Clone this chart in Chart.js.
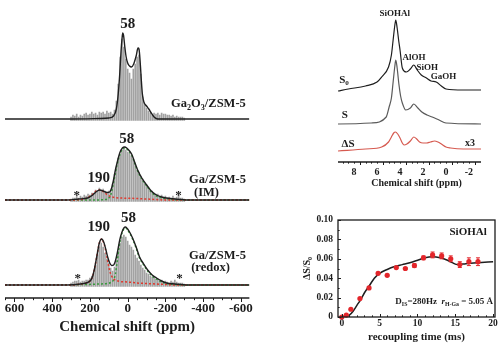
<!DOCTYPE html>
<html>
<head>
<meta charset="utf-8">
<script src="https://cdn.jsdelivr.net/npm/chart.js@4.4.1/dist/chart.umd.min.js"></script>
<style>
  html, body { margin: 0; padding: 0; background: #fff; }
  #wrap { position: relative; width: 500px; height: 348px; overflow: hidden; }
  canvas { position: absolute; }
</style>
</head>
<body>
<div id="wrap">
  <canvas id="galliumChart" width="256" height="348" style="left:0;top:0"></canvas>
  <canvas id="protonChart" width="210" height="200" style="left:290px;top:0"></canvas>
  <canvas id="respdorChart" width="210" height="148" style="left:290px;top:200px"></canvas>
</div>
<script>
const SERIF = '"Liberation Serif", "Times New Roman", serif';
const INK = '#1c1c1c';

// ---------- 71Ga MAS NMR spectra (left panel) ----------
// raw spectrum sampled every 10 ppm, 300 .. -300
const rawPpm = [300, 290, 280, 270, 260, 250, 240, 230, 220, 210,
                200, 190, 180, 170, 160, 150, 140, 130, 120, 110,
                100, 90, 80, 70, 60, 50, 40, 30, 20, 10,
                0, -10, -20, -30, -40, -50, -60, -70, -80, -90,
                -100, -110, -120, -130, -140, -150, -160, -170, -180, -190,
                -200, -210, -220, -230, -240, -250, -260, -270, -280, -290, -300];

// Ga2O3/ZSM-5
const ga2o3Raw = [2, 4, 3, 5, 2, 4, 3, 5, 6, 4,
                  5, 7, 5, 6, 4, 7, 6, 7, 5, 8,
                  6, 7, 5, 9, 18, 35, 62, 80, 72, 60,
                  50, 46, 40, 50, 55, 62, 64, 45, 22, 14,
                  11, 8, 6, 4, 6, 5, 6, 4, 6, 5,
                  5, 4, 4, 3, 4, 2, 3, 2, 2, 2, 1];
const ga2o3FitPpm = [650, 300, 150, 100, 75, 60, 50, 42, 35, 30, 26, 22, 15, 8, 0, -10, -20, -32, -45, -55, -60, -66, -72, -78, -86, -100, -112, -125, -140, -160, -300, -645];
const ga2o3Fit    = [0, 0, 0.5, 1, 3, 10, 25, 45, 68, 80, 86, 84, 72, 62, 56, 53, 52, 55, 63, 71, 70, 58, 40, 25, 17, 13, 10, 6, 2, 0, 0, 0];

// Ga/ZSM-5 (IM)
const gaImRaw = [1, 2, 2, 5, 2, 4, 3, 5, 4, 6,
                 5, 7, 7, 10, 9, 12, 10, 11, 9, 8,
                 9, 10, 16, 26, 33, 42, 45, 50, 52, 50,
                 48, 47, 44, 40, 36, 30, 28, 24, 21, 17,
                 15, 13, 10, 9, 7, 6, 6, 4, 5, 3,
                 4, 2, 3, 2, 4, 2, 3, 5, 2, 2, 1];
const gaImFitPpm = [650, 320, 260, 212, 185, 165, 148, 130, 110, 95, 85, 75, 65, 55, 42, 28, 16, 5, -10, -21, -37, -53, -75, -101, -125, -153, -180, -206, -250, -320, -645];
const gaImFit    = [0, 0, 1, 2, 5, 8.5, 10, 9, 7.5, 8, 12, 20, 30, 38, 47, 52, 53, 52, 49, 46, 38, 30, 22, 15, 9, 5, 3, 2, 1, 0, 0];
const gaImSite190Ppm = [650, 300, 250, 215, 190, 170, 150, 130, 110, 90, 70, 40, 0, -50, -100, -150, -200, -645];
const gaImSite190    = [0, 0, 0.5, 2, 5, 8.5, 10, 8.5, 5.5, 3.5, 2.5, 2, 1.8, 1.5, 1, 0.5, 0, 0];
const gaImSite58Ppm = [650, 200, 120, 100, 88, 78, 68, 55, 42, 28, 16, 5, -10, -21, -37, -53, -75, -101, -125, -153, -180, -220, -260, -645];
const gaImSite58    = [0, 0, 0.5, 2, 6, 14, 24, 36, 45, 51, 52, 51, 48, 45, 37, 29, 21, 14, 8, 4, 2, 1, 0, 0];

// Ga/ZSM-5 (redox)
const gaRedoxRaw = [2, 3, 4, 4, 5, 3, 4, 4, 5, 5,
                    7, 9, 12, 20, 30, 38, 42, 38, 32, 26,
                    22, 17, 14, 18, 24, 34, 42, 48, 50, 48,
                    44, 40, 38, 35, 30, 27, 24, 20, 17, 15,
                    12, 11, 9, 8, 7, 6, 6, 4, 5, 3,
                    4, 3, 2, 4, 3, 5, 3, 2, 2, 2, 1];
const gaRedoxFitPpm = [650, 320, 250, 212, 195, 185, 175, 164, 150, 138, 125, 115, 106, 95, 85, 74, 65, 55, 42, 30, 20, 11, 0, -13, -26, -45, -63, -85, -106, -130, -153, -180, -206, -250, -320, -645];
const gaRedoxFit    = [0, 0, 1, 2.5, 5, 9, 17, 28, 42, 46, 42, 35, 28, 22, 19.5, 20, 24, 32, 45, 53, 57, 58, 56, 52, 47, 38, 28, 21, 15, 10, 7, 4, 2, 1, 0, 0];
const gaRedoxSite190Ppm = [650, 300, 250, 212, 195, 185, 175, 164, 150, 138, 125, 115, 106, 95, 85, 74, 60, 40, 0, -50, -100, -150, -200, -250, -645];
const gaRedoxSite190    = [0, 0, 1, 2.5, 5, 9, 17, 28, 42, 46, 41, 33, 24, 14, 9, 6, 4.5, 3.5, 3, 2, 1.5, 1, 0.5, 0, 0];
const gaRedoxSite58Ppm = [650, 220, 150, 110, 90, 75, 65, 55, 42, 30, 20, 11, 0, -13, -26, -45, -63, -85, -106, -130, -153, -180, -206, -250, -300, -645];
const gaRedoxSite58    = [0, 0.5, 1, 1.5, 2.5, 5, 11, 24, 42, 52, 56, 57, 55, 51, 46, 37, 27, 20, 14, 9, 6, 3, 1.5, 0.5, 0, 0];

// vertical offsets of the stacked traces
const gaOffsets = { ga2o3: 179, gaIm: 98, gaRedox: 13 };

// ---------- 1H spectra (top right) ----------
const s0Ppm = [9.4, 8.5, 7.0, 6.0, 5.6, 5.0, 4.75, 4.6, 4.45, 4.37, 4.25, 4.1, 4.0, 3.8, 3.45, 3.1, 2.8, 2.5, 2.15, 1.7, 1.3, 0.85, 0.4, 0, -1.5, -3.05];
const s0    = [-1, 1, 4, 8, 13, 23, 35, 50, 65, 70, 62, 48, 40, 22, 18, 21, 25, 20, 15, 12, 9, 8, 4, 1, 0, 0];
const sPpm  = [9.4, 6.5, 5.2, 4.95, 4.75, 4.6, 4.45, 4.37, 4.25, 4.1, 3.95, 3.8, 3.5, 3.1, 2.8, 2.45, 2.1, 1.65, 1.2, 0.6, 0, -3.05];
const sVals = [0, 1, 7, 17, 26, 42, 58, 64, 56, 40, 28, 21, 14, 16, 20, 16, 12, 9, 7, 4, 1, 0];
const dsPpm = [9.4, 7.0, 5.6, 5.0, 4.75, 4.55, 4.4, 4.2, 4.0, 3.8, 3.65, 3.4, 3.1, 2.8, 2.55, 2.3, 2.0, 1.7, 1.35, 1.0, 0.7, 0.4, 0, -0.4, -1.5, -3.05];
const dsVals = [-1, 1, 3, 8, 13, 17, 18, 16, 12, 7, 5, 6, 9, 13, 11, 8, 7, 7, 8, 9, 8, 6, 3, 2, 1, 1];
const hOffsets = { s0: 72, s: 38, ds: 12 };

// ---------- S-RESPDOR curve (bottom right) ----------
const recoupMs = [0, 0.6, 1.2, 2.4, 3.6, 4.8, 6.0, 7.2, 8.4, 9.6, 10.8, 12.0, 13.2, 14.4, 15.6, 16.8, 18.0];
const deltaS   = [0.000, 0.002, 0.008, 0.019, 0.030, 0.045, 0.043, 0.051, 0.050, 0.053, 0.061, 0.064, 0.063, 0.060, 0.054, 0.057, 0.057];
const deltaErr = [0, 0, 0, 0.001, 0, 0.001, 0.001, 0.001, 0.001, 0.002, 0.002, 0.003, 0.003, 0.003, 0.003, 0.004, 0.004];
const simMs  = [0, 0.5, 1.0, 1.5, 2.0, 2.5, 3.0, 3.7, 4.3, 5.0, 6.0, 7.0, 8.0, 9.0, 10.2, 11.0, 12.0, 13.0, 13.8, 14.6, 15.3, 16.4, 18.0, 20.0];
const simVal = [0, 0.0005, 0.002, 0.006, 0.012, 0.018, 0.025, 0.033, 0.040, 0.045, 0.049, 0.052, 0.054, 0.056, 0.059, 0.061, 0.062, 0.061, 0.059, 0.056, 0.054, 0.055, 0.056, 0.057];

// ---------- helpers ----------
function pts(xs, ys, off) { return xs.map((x, i) => ({ x: x, y: ys[i] + (off || 0) })); }
function sticks(xs, ys, off) { return xs.map((x, i) => ({ x: x, y: [off - 1.5, ys[i] + off] })); }

function curve(data, color, width, dash, order) {
  return { type: 'line', data: data, borderColor: color, borderWidth: width, borderDash: dash || [],
           pointRadius: 0, fill: false, cubicInterpolationMode: 'monotone', order: order };
}
function rawTrace(data) {
  return { type: 'bar', data: data, backgroundColor: '#a2a2a2', borderWidth: 0,
           barThickness: 1, grouped: false, order: 5 };
}

function drawRich(ctx, parts, x, y, size, align, color) {
  const segs = parts.map(p => typeof p === 'string' ? { t: p } : p);
  const fontFor = s => (s.italic ? 'italic ' : '') + 'bold ' + (s.sub ? size * 0.65 : size) + 'px ' + SERIF;
  let w = 0;
  segs.forEach(s => { ctx.font = fontFor(s); s.w = ctx.measureText(s.t).width; w += s.w; });
  let cx = align === 'center' ? x - w / 2 : (align === 'right' ? x - w : x);
  ctx.fillStyle = color || INK;
  ctx.textBaseline = 'middle';
  ctx.textAlign = 'left';
  segs.forEach(s => {
    ctx.font = fontFor(s);
    ctx.fillText(s.t, cx, s.sub ? y + size * 0.3 : y);
    cx += s.w;
  });
}

// text placed in data coordinates
const textLabels = {
  id: 'textLabels',
  afterDatasetsDraw(chart, args, opts) {
    const ctx = chart.ctx;
    ctx.save();
    (opts.items || []).forEach(it => {
      const px = chart.scales.x.getPixelForValue(it.x);
      const py = chart.scales.y.getPixelForValue(it.y);
      drawRich(ctx, it.parts, px, py, it.size, it.align || 'center', it.color);
    });
    ctx.restore();
  }
};

// axis lines, major/minor tick marks and plot frame
const tickMarks = {
  id: 'tickMarks',
  afterDraw(chart, args, opts) {
    const ctx = chart.ctx;
    const area = chart.chartArea;
    ctx.save();
    ctx.strokeStyle = INK;
    if (opts.axisLine) {
      ctx.lineWidth = opts.axisLine;
      ctx.beginPath();
      ctx.moveTo(area.left, area.bottom);
      ctx.lineTo(area.right, area.bottom);
      ctx.stroke();
    }
    if (opts.frame) {
      ctx.lineWidth = opts.frame;
      ctx.strokeRect(area.left, area.top, area.right - area.left, area.bottom - area.top);
    }
    ctx.lineWidth = 1;
    (opts.sets || []).forEach(set => {
      const scale = chart.scales[set.axis];
      const n = Math.round((set.to - set.from) / set.step);
      for (let i = 0; i <= n; i++) {
        const v = set.from + i * set.step;
        const major = i % set.majorEvery === 0;
        const len = major ? set.len : set.len * 0.55;
        const p = Math.round(scale.getPixelForValue(v)) + 0.5;
        ctx.beginPath();
        if (set.axis === 'x') {
          const y0 = area.bottom;
          ctx.moveTo(p, y0);
          ctx.lineTo(p, set.inside ? y0 - len : y0 + len);
        } else {
          ctx.moveTo(area.left, p);
          ctx.lineTo(area.left + len, p);
        }
        ctx.stroke();
      }
    });
    ctx.restore();
  }
};

const errorBars = {
  id: 'errorBars',
  afterDatasetsDraw(chart, args, opts) {
    const ctx = chart.ctx;
    const xs = chart.scales.x, ys = chart.scales.y;
    ctx.save();
    ctx.strokeStyle = opts.color;
    ctx.lineWidth = 1;
    recoupMs.forEach((t, i) => {
      const e = deltaErr[i];
      if (!e) return;
      const px = xs.getPixelForValue(t);
      const y1 = ys.getPixelForValue(deltaS[i] - e);
      const y2 = ys.getPixelForValue(deltaS[i] + e);
      ctx.beginPath();
      ctx.moveTo(px, y1); ctx.lineTo(px, y2);
      ctx.moveTo(px - 2, y1); ctx.lineTo(px + 2, y1);
      ctx.moveTo(px - 2, y2); ctx.lineTo(px + 2, y2);
      ctx.stroke();
    });
    ctx.restore();
  }
};

const boldFont = size => ({ family: SERIF, size: size, weight: 'bold' });
const RED_DASH = '#e0392e';
const GREEN_DASH = '#3a9a3e';

// ---------- left: Ga spectra ----------
new Chart(document.getElementById('galliumChart'), {
  type: 'line',
  data: {
    datasets: [
      rawTrace(sticks(rawPpm, ga2o3Raw, gaOffsets.ga2o3)),
      rawTrace(sticks(rawPpm, gaImRaw, gaOffsets.gaIm)),
      rawTrace(sticks(rawPpm, gaRedoxRaw, gaOffsets.gaRedox)),
      curve(pts(gaImSite190Ppm, gaImSite190, gaOffsets.gaIm), RED_DASH, 1.5, [2, 2], 2),
      curve(pts(gaImSite58Ppm, gaImSite58, gaOffsets.gaIm), GREEN_DASH, 1.5, [2, 2], 2),
      curve(pts(gaRedoxSite190Ppm, gaRedoxSite190, gaOffsets.gaRedox), RED_DASH, 1.5, [2, 2], 2),
      curve(pts(gaRedoxSite58Ppm, gaRedoxSite58, gaOffsets.gaRedox), GREEN_DASH, 1.5, [2, 2], 2),
      curve(pts(ga2o3FitPpm, ga2o3Fit, gaOffsets.ga2o3), '#202020', 1.4, null, 1),
      curve(pts(gaImFitPpm, gaImFit, gaOffsets.gaIm), '#202020', 1.4, null, 1),
      curve(pts(gaRedoxFitPpm, gaRedoxFit, gaOffsets.gaRedox), '#202020', 1.4, null, 1)
    ]
  },
  options: {
    responsive: false,
    animation: false,
    layout: { padding: { left: 5, right: 6, top: 0, bottom: 0 } },
    plugins: {
      legend: { display: false },
      tooltip: { enabled: false },
      tickMarks: {
        axisLine: 1.6,
        sets: [{ axis: 'x', from: -600, to: 650, step: 50, majorEvery: 4, len: 4 }]
      },
      textLabels: {
        items: [
          { x: 0, y: 274, parts: ['58'], size: 15 },
          { x: -428, y: 194, parts: ['Ga', { t: '2', sub: true }, 'O', { t: '3', sub: true }, '/ZSM-5'], size: 12.5 },
          { x: 5, y: 159, parts: ['58'], size: 15 },
          { x: 153, y: 120, parts: ['190'], size: 15 },
          { x: 270, y: 102, parts: ['*'], size: 13 },
          { x: -270, y: 102, parts: ['*'], size: 13 },
          { x: -476, y: 118, parts: ['Ga/ZSM-5'], size: 12.5 },
          { x: -418, y: 105, parts: ['(IM)'], size: 12.5 },
          { x: 153, y: 71, parts: ['190'], size: 15 },
          { x: -5, y: 80, parts: ['58'], size: 15 },
          { x: 265, y: 19, parts: ['*'], size: 13 },
          { x: -275, y: 19, parts: ['*'], size: 13 },
          { x: -476, y: 42, parts: ['Ga/ZSM-5'], size: 12.5 },
          { x: -439, y: 30, parts: ['(redox)'], size: 12.5 }
        ]
      }
    },
    scales: {
      x: {
        type: 'linear', reverse: true, min: -645, max: 650, offset: false,
        grid: { display: false, drawTicks: false, offset: false },
        border: { display: false },
        ticks: { stepSize: 200, includeBounds: false, autoSkip: false, maxRotation: 0,
                 padding: 3, color: INK, font: boldFont(13) },
        title: { display: true, text: 'Chemical shift (ppm)', color: INK, font: boldFont(15),
                 padding: { top: 0, bottom: 12 } },
        afterFit: s => { s.height = 50; }
      },
      y: { type: 'linear', display: false, min: 0, max: 298 }
    }
  },
  plugins: [tickMarks, textLabels]
});

// ---------- top right: 1H spectra ----------
new Chart(document.getElementById('protonChart'), {
  type: 'line',
  data: {
    datasets: [
      curve(pts(s0Ppm, s0, hOffsets.s0), '#1e1e1e', 1.2, null, 1),
      curve(pts(sPpm, sVals, hOffsets.s), '#5a5a5a', 1.2, null, 1),
      curve(pts(dsPpm, dsVals, hOffsets.ds), '#d65a50', 1.2, null, 1)
    ]
  },
  options: {
    responsive: false,
    animation: false,
    layout: { padding: { left: 48, right: 19, top: 0, bottom: 0 } },
    plugins: {
      legend: { display: false },
      tooltip: { enabled: false },
      tickMarks: {
        axisLine: 1.5,
        sets: [{ axis: 'x', from: -2.5, to: 9, step: 0.5, majorEvery: 4, len: 3 }]
      },
      textLabels: {
        items: [
          { x: 4.46, y: 148, parts: ['SiOHAl'], size: 9 },
          { x: 2.78, y: 104, parts: ['AlOH'], size: 9 },
          { x: 1.63, y: 94, parts: ['SiOH'], size: 9 },
          { x: 0.21, y: 85, parts: ['GaOH'], size: 9 },
          { x: 8.88, y: 82, parts: ['S', { t: '0', sub: true }], size: 11 },
          { x: 8.8, y: 47, parts: ['S'], size: 11 },
          { x: 8.53, y: 18, parts: ['ΔS'], size: 11 },
          { x: -2.09, y: 19, parts: ['x3'], size: 10 },
          { x: 2.56, y: -21.5, parts: ['Chemical shift (ppm)'], size: 10 }
        ]
      }
    },
    scales: {
      x: {
        type: 'linear', reverse: true, min: -3.05, max: 9.4, offset: false,
        grid: { display: false, drawTicks: false },
        border: { display: false },
        ticks: { stepSize: 2, includeBounds: false, autoSkip: false, maxRotation: 0,
                 padding: 4, color: INK, font: boldFont(10) },
        afterFit: s => { s.height = 38; }
      },
      y: { type: 'linear', display: false, min: 0, max: 162 }
    }
  },
  plugins: [tickMarks, textLabels]
});

// ---------- bottom right: dephasing curve ----------
new Chart(document.getElementById('respdorChart'), {
  type: 'line',
  data: {
    datasets: [
      { type: 'line', data: pts(recoupMs, deltaS), showLine: false, pointRadius: 2.6,
        pointBackgroundColor: '#e3262b', pointBorderWidth: 0, clip: false, order: 0 },
      curve(pts(simMs, simVal), '#1e1e1e', 1.5, null, 1)
    ]
  },
  options: {
    responsive: false,
    animation: false,
    layout: { padding: { left: 0, right: 5, top: 20, bottom: 0 } },
    plugins: {
      legend: { display: false },
      tooltip: { enabled: false },
      errorBars: { color: '#e3262b' },
      tickMarks: {
        frame: 1.3,
        sets: [
          { axis: 'x', from: 0, to: 20, step: 1, majorEvery: 5, len: 3, inside: true },
          { axis: 'y', from: 0, to: 0.1, step: 0.01, majorEvery: 2, len: 3 }
        ]
      },
      textLabels: {
        items: [
          { x: 16.7, y: 0.0876, parts: ['SiOHAl'], size: 11 },
          { x: 20.0, y: 0.0155, align: 'right', size: 9,
            parts: ['D', { t: 'IS', sub: true }, '=280Hz  ', { t: 'r', italic: true }, { t: 'H-Ga', sub: true }, ' = 5.05 Å'] }
        ]
      }
    },
    scales: {
      x: {
        type: 'linear', min: -0.5, max: 20.25, offset: false,
        grid: { display: false, drawTicks: false },
        border: { display: false },
        ticks: { stepSize: 5, includeBounds: false, autoSkip: false, maxRotation: 0,
                 padding: 1, color: INK, font: boldFont(9.5) },
        title: { display: true, text: 'recoupling time (ms)', color: INK, font: boldFont(11),
                 padding: { top: 0, bottom: 4 } },
        afterFit: s => { s.height = 31; }
      },
      y: {
        type: 'linear', min: 0, max: 0.1,
        grid: { display: false, drawTicks: false },
        border: { display: false },
        ticks: { stepSize: 0.02, includeBounds: false, padding: 5, color: INK, font: boldFont(9.5),
                 callback: v => (Math.abs(v) < 1e-9 ? '0' : v.toFixed(2)) },
        title: { display: true, text: 'ΔS/S₀', color: INK, font: boldFont(10),
                 padding: { top: 11, bottom: 0 } },
        afterFit: s => { s.width = 48; }
      }
    }
  },
  plugins: [tickMarks, textLabels, errorBars]
});
</script>
</body>
</html>
